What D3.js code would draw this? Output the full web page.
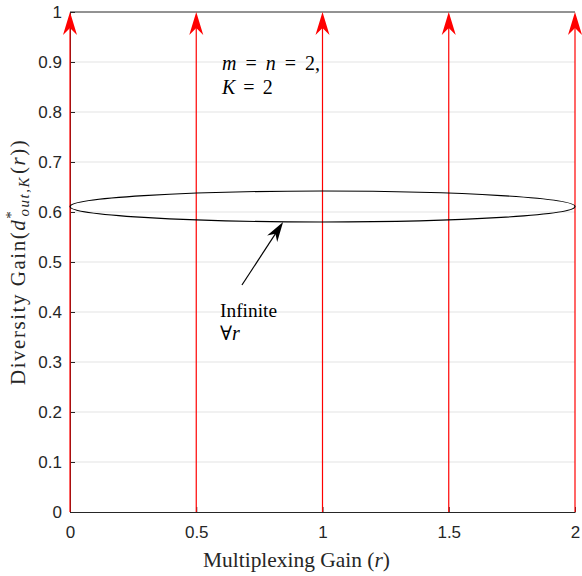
<!DOCTYPE html>
<html><head><meta charset="utf-8">
<script src="https://cdn.jsdelivr.net/npm/d3@7"></script>
<style>body{margin:0;background:#fff}svg{display:block}</style>
</head><body><svg id="c" width="582" height="576"></svg>
<script>
const xTicks=[0,0.5,1,1.5,2];
const yTicks=[0,0.1,0.2,0.3,0.4,0.5,0.6,0.7,0.8,0.9,1];
const arrowX=[0,0.5,1,1.5,2];
const arrowFrom=[0,0,0,0,0];
const arrowTo=[1,1,1,1,1];
const ellipseCenter=[1,0.611];
const ellipseRadii=[1.0,0.031];
const annotFrom=[0.681,0.454];
const annotTo=[0.844,0.58];

const svg=d3.select("#c");
const m={l:70,r:575,t:12,b:512};
const x=d3.scaleLinear().domain([0,2]).range([m.l,m.r]);
const y=d3.scaleLinear().domain([0,1]).range([m.b,m.t]);

// grid
svg.append("g").selectAll("line").data(yTicks.slice(1,-1)).join("line")
 .attr("x1",m.l).attr("x2",m.r).attr("y1",d=>y(d)).attr("y2",d=>y(d))
 .attr("stroke","#e3e3e3").attr("stroke-width",1);

// axes
const ax=svg.append("g").attr("transform",`translate(0,${m.b})`)
 .call(d3.axisBottom(x).tickValues(xTicks).tickFormat(d3.format("")).tickSizeInner(-5).tickSizeOuter(0).tickPadding(14));
const ay=svg.append("g").attr("transform",`translate(${m.l},0)`)
 .call(d3.axisLeft(y).tickValues(yTicks).tickFormat(d3.format("")).tickSizeInner(-5).tickSizeOuter(0).tickPadding(8));
[ax,ay].forEach(g=>{g.select(".domain").attr("stroke","#262626");g.selectAll(".tick line").attr("stroke","#262626");
 g.selectAll("text").attr("font-family","Liberation Sans, Arial, sans-serif").attr("font-size",17).attr("fill","#262626");});
svg.append("line").attr("x1",m.l).attr("x2",m.r).attr("y1",m.t).attr("y2",m.t).attr("stroke","#262626");

// red arrows
const red="#ff0000";
arrowX.forEach((v,i)=>{
  const px=x(v), y0=y(arrowFrom[i]), y1=y(arrowTo[i]);
  svg.append("line").attr("x1",px).attr("x2",px).attr("y1",y0).attr("y2",y1+10).attr("stroke",red).attr("stroke-width",1.2);
  svg.append("path").attr("d",`M${px},${y1} L${px-7},${y1+23} L${px},${y1+16} L${px+7},${y1+23} Z`).attr("fill",red);
});

// ellipse
svg.append("ellipse").attr("cx",x(ellipseCenter[0])).attr("cy",y(ellipseCenter[1]))
 .attr("rx",x(ellipseRadii[0])-x(0)).attr("ry",y(0)-y(ellipseRadii[1]))
 .attr("fill","none").attr("stroke","#000").attr("stroke-width",1.2);

// annotation arrow
const ax0=x(annotFrom[0]),ay0=y(annotFrom[1]),ax1=x(annotTo[0]),ay1=y(annotTo[1]);
const ang=Math.atan2(ay1-ay0,ax1-ax0);
svg.append("line").attr("x1",ax0).attr("y1",ay0).attr("x2",ax1-10*Math.cos(ang)).attr("y2",ay1-10*Math.sin(ang)).attr("stroke","#000").attr("stroke-width",1.2);
const L=20,W=6,N=14;
const p=(d,o)=>[ax1-d*Math.cos(ang)-o*Math.sin(ang), ay1-d*Math.sin(ang)+o*Math.cos(ang)];
const pts=[[ax1,ay1],p(L,W),p(N,0),p(L,-W)];
svg.append("path").attr("d","M"+pts.map(q=>q.join(",")).join("L")+"Z").attr("fill","#000");

const serif="Liberation Serif, DejaVu Serif, serif";
function fit(sel,target){
  let fs=+sel.attr("font-size");
  for(let k=0;k<3;k++){const w=sel.node().getComputedTextLength();fs=fs*target/w;sel.attr("font-size",fs.toFixed(2));}
}

const t1=svg.append("text").attr("x",220).attr("y",317).attr("font-family",serif).attr("font-size",19).text("Infinite");
fit(t1,57);
const t2=svg.append("text").attr("x",220).attr("y",340).attr("font-family",serif).attr("font-size",20);
t2.append("tspan").text("∀");t2.append("tspan").attr("font-style","italic").text("r");

const t3=svg.append("text").attr("x",222).attr("y",70).attr("font-family",serif).attr("font-size",20);
t3.append("tspan").attr("font-style","italic").text("m");
t3.append("tspan").attr("dx",9).text("=");
t3.append("tspan").attr("dx",9).attr("font-style","italic").text("n");
t3.append("tspan").attr("dx",9).text("=");
t3.append("tspan").attr("dx",9).text("2,");
const t4=svg.append("text").attr("x",222).attr("y",94).attr("font-family",serif).attr("font-size",20);
t4.append("tspan").attr("font-style","italic").text("K");
t4.append("tspan").attr("dx",8).text("=");
t4.append("tspan").attr("dx",8).text("2");

// x label
const xl=svg.append("text").attr("x",203).attr("y",567).attr("font-family",serif).attr("font-size",19).attr("fill","#262626");
xl.append("tspan").text("Multiplexing Gain (");xl.append("tspan").attr("font-style","italic").text("r");xl.append("tspan").text(")");
fit(xl,187);

// y label
const yl=svg.append("text").attr("transform",`translate(25,385) rotate(-90)`).attr("font-family",serif).attr("font-size",21).attr("fill","#262626");
yl.append("tspan").text("Diversity Gain(");
yl.append("tspan").attr("font-style","italic").text("d");
yl.append("tspan").attr("font-size",15).attr("dy",-9).text("*");
yl.append("tspan").attr("font-size",15).attr("font-style","italic").attr("dx",-7).attr("dy",13).text("out,K");
yl.append("tspan").attr("dx",2).attr("dy",-4).text("(");
yl.append("tspan").attr("font-style","italic").text("r");
yl.append("tspan").text("))");
const bb=yl.node().getComputedTextLength();
yl.attr("letter-spacing",Math.max(0,(256-bb)/29).toFixed(2));
</script></body></html>
